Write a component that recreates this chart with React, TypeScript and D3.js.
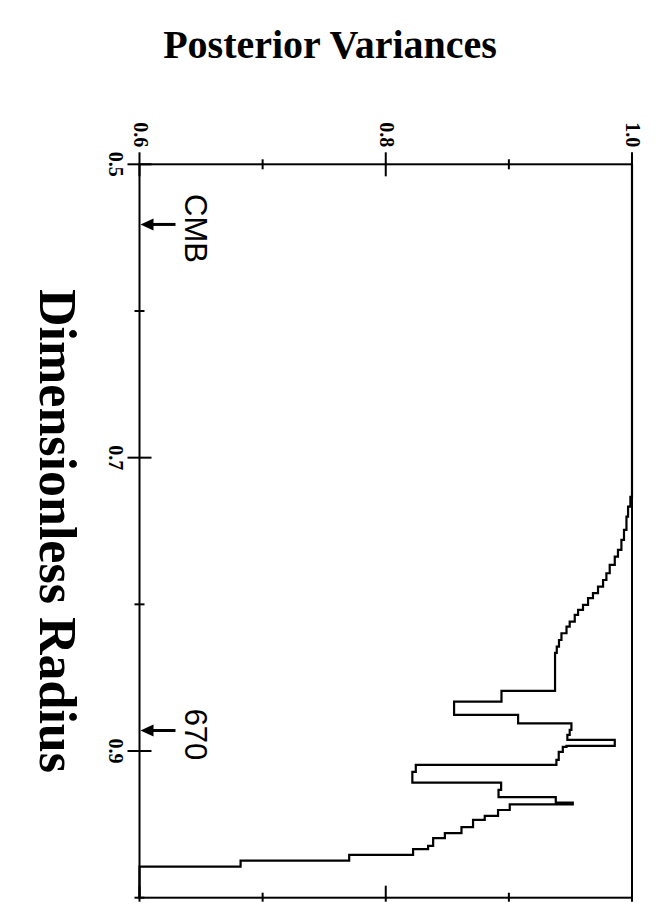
import React, { useEffect, useRef } from 'react';
import * as d3 from 'd3';

// step profile: each step starts at stepRadius[i] and holds stepVariance[i]
const stepRadius = [
  0.5, 0.7268, 0.7334, 0.7402, 0.7493, 0.7561, 0.7629, 0.7675, 0.7731, 0.7788,
  0.7834, 0.7879, 0.7924, 0.7958, 0.8004, 0.8038, 0.8072, 0.8118, 0.8152, 0.8197,
  0.8243, 0.8288, 0.8331, 0.859, 0.8663, 0.8754, 0.8811, 0.8856, 0.889, 0.8924,
  0.8965, 0.8972, 0.9006, 0.9061, 0.9095, 0.9142, 0.9215, 0.9265, 0.9315, 0.9352,
  0.9364, 0.9402, 0.9442, 0.947, 0.9519, 0.956, 0.9594, 0.9647, 0.9669, 0.9708,
  0.9747, 0.9788,
];
const stepVariance = [
  1.0, 0.9987, 0.9968, 0.9955, 0.9935, 0.9914, 0.9886, 0.986, 0.9819, 0.9792,
  0.9765, 0.9724, 0.9683, 0.9643, 0.9602, 0.9562, 0.9535, 0.9494, 0.9468, 0.9427,
  0.9407, 0.9389, 0.9375, 0.894, 0.8555, 0.9075, 0.9508, 0.9494, 0.9475, 0.986,
  0.9468, 0.9438, 0.9405, 0.9386, 0.8244, 0.8216, 0.8937, 0.8916, 0.9381, 0.9519,
  0.9007, 0.8912, 0.8804, 0.8709, 0.8615, 0.848, 0.8385, 0.8344, 0.8222, 0.7703,
  0.6821, 0.6,
];
const radiusEnd = 1.0;

const varianceTicks = [0.6, 0.7, 0.8, 0.9, 1.0];
const varianceLabels = ['0.6', '0.8', '1.0'];
const radiusTicks = [0.5, 0.6, 0.7, 0.8, 0.9, 1.0];
const radiusLabels = ['0.5', '0.7', '0.9'];

const markerLabels = ['CMB', '670'];
const markerRadius = [0.541, 0.886];

const W = 659;
const H = 907;

function App() {
  const svgRef = useRef<SVGSVGElement>(null);

  useEffect(() => {
    const svg = d3.select(svgRef.current);
    svg.selectAll('*').remove();

    const serif = '"Liberation Serif", "Times New Roman", serif';
    const sans = '"Liberation Sans", Arial, sans-serif';

    // plot is rotated: radius runs down, variance runs right
    const x = d3.scaleLinear().domain([0.6, 1.0]).range([139.5, 632]);
    const y = d3.scaleLinear().domain([0.5, 1.0]).range([164.3, 897.7]);

    const [x0, x1] = x.range();
    const [y0, y1] = y.range();

    // title
    svg.append('text')
      .attr('x', 330)
      .attr('y', 58)
      .attr('text-anchor', 'middle')
      .attr('font-family', serif)
      .attr('font-weight', 'bold')
      .attr('font-size', 40)
      .text('Posterior Variances');

    // axis title
    svg.append('text')
      .attr('transform', `translate(40,${(y0 + y1) / 2}) rotate(90)`)
      .attr('text-anchor', 'middle')
      .attr('font-family', serif)
      .attr('font-weight', 'bold')
      .attr('font-size', 52)
      .text('Dimensionless Radius');

    // frame
    svg.append('rect')
      .attr('x', x0)
      .attr('y', y0)
      .attr('width', x1 - x0)
      .attr('height', y1 - y0)
      .attr('fill', 'none')
      .attr('stroke', '#000')
      .attr('stroke-width', 2);

    const isLabeled = (v: number, labels: string[]) => labels.includes(v.toFixed(1));

    // variance ticks (top and bottom)
    varianceTicks.forEach(v => {
      const big = isLabeled(v, varianceLabels);
      svg.append('line')
        .attr('x1', x(v)).attr('x2', x(v))
        .attr('y1', y0 - (big ? 12 : 5)).attr('y2', y0 + (big ? 12 : 5))
        .attr('stroke', '#000').attr('stroke-width', 2);
      svg.append('line')
        .attr('x1', x(v)).attr('x2', x(v))
        .attr('y1', y1 - (big ? 12 : 5)).attr('y2', y1 + 4)
        .attr('stroke', '#000').attr('stroke-width', 2);
    });
    varianceLabels.forEach(l => {
      svg.append('text')
        .attr('transform', `translate(${x(+l) - 6},${y0 - 17}) rotate(90)`)
        .attr('text-anchor', 'end')
        .attr('font-family', serif)
        .attr('font-weight', 'bold')
        .attr('font-size', 20)
        .text(l);
    });

    // radius ticks (left)
    radiusTicks.forEach(r => {
      const big = isLabeled(r, radiusLabels);
      svg.append('line')
        .attr('x1', x0 - (big ? 12 : 5)).attr('x2', x0 + (big ? 12 : 5))
        .attr('y1', y(r)).attr('y2', y(r))
        .attr('stroke', '#000').attr('stroke-width', 2);
    });
    radiusLabels.forEach(l => {
      svg.append('text')
        .attr('transform', `translate(${x0 - 31},${y(+l)}) rotate(90)`)
        .attr('text-anchor', 'middle')
        .attr('font-family', serif)
        .attr('font-weight', 'bold')
        .attr('font-size', 20)
        .text(l);
    });

    // step curve
    const pts: [number, number][] = [];
    stepVariance.forEach((v, i) => {
      const rEnd = i + 1 < stepRadius.length ? stepRadius[i + 1] : radiusEnd;
      pts.push([x(v), y(stepRadius[i])]);
      pts.push([x(v), y(rEnd)]);
    });
    svg.append('path')
      .attr('d', d3.line()(pts))
      .attr('fill', 'none')
      .attr('stroke', '#000')
      .attr('stroke-width', 2.2);

    // CMB / 670 markers
    markerLabels.forEach((lab, i) => {
      const yy = y(markerRadius[i]);
      svg.append('line')
        .attr('x1', x0 + 10).attr('x2', x0 + 36)
        .attr('y1', yy).attr('y2', yy)
        .attr('stroke', '#000').attr('stroke-width', 3);
      svg.append('path')
        .attr('d', `M${x0 + 1},${yy} L${x0 + 14},${yy - 6} L${x0 + 14},${yy + 6} Z`)
        .attr('fill', '#000');
      svg.append('text')
        .attr('transform', `translate(${x0 + 45},${yy + 4}) rotate(90)`)
        .attr('text-anchor', 'middle')
        .attr('font-family', sans)
        .attr('font-size', 31)
        .text(lab);
    });
  }, []);

  return (
    <svg
      ref={svgRef}
      width={W}
      height={H}
      style={{ position: 'absolute', left: 0, top: 0, background: '#fff' }}
    />
  );
}

export default App;
